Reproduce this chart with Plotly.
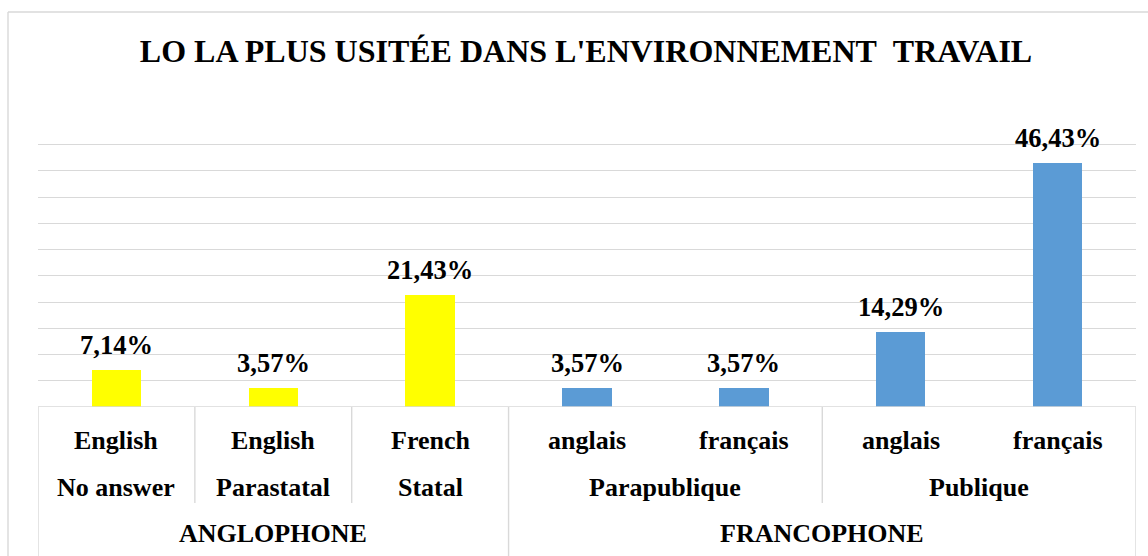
import plotly.graph_objects as go

# ---- data ----
level1 = ["English", "English", "French", "anglais", "français", "anglais", "français"]
level2 = ["No answer", "Parastatal", "Statal", "Parapublique", "Parapublique", "Publique", "Publique"]
level3 = ["ANGLOPHONE", "ANGLOPHONE", "ANGLOPHONE", "FRANCOPHONE", "FRANCOPHONE", "FRANCOPHONE", "FRANCOPHONE"]
values = [7.14, 3.57, 21.43, 3.57, 3.57, 14.29, 46.43]
bar_colors = ["#FFFF00", "#FFFF00", "#FFFF00", "#5B9BD5", "#5B9BD5", "#5B9BD5", "#5B9BD5"]
title_text = "LO LA PLUS USITÉE DANS L'ENVIRONNEMENT\u00a0\u00a0TRAVAIL"
y_max = 50.5

# ---- layout geometry (pixels) ----
W, H = 1148, 556
ML, MR, MT, MB = 38, 12, 142, 149
plot_h = H - MT - MB
plot_w = W - ML - MR
FONT = "Liberation Serif, Times New Roman, serif"
GRID = "#D9D9D9"

xs = list(range(len(values)))

fig = go.Figure()
fig.add_trace(go.Bar(
    x=xs, y=values, marker=dict(color=bar_colors, line=dict(width=0)),
    width=0.315, hoverinfo="skip",
))

annotations = []
# data labels
for x, v in zip(xs, values):
    annotations.append(dict(
        x=x, y=v, xref="x", yref="y", text=f"{v:.2f}%".replace(".", ","),
        showarrow=False, yanchor="bottom", yshift=8,
        font=dict(family=FONT, size=26.5, color="#000000", weight="bold"),
    ))

def px_down(p):
    return -p / plot_h

lab_font = dict(family=FONT, size=26, color="#000000", weight="bold")
# level-1 labels
for x, t in zip(xs, level1):
    annotations.append(dict(x=x, y=0, xref="x", yref="paper", text=t, showarrow=False,
                            yanchor="middle", yshift=-33, font=lab_font))

# group helper
def groups(labels, keys=None):
    out = []
    start = 0
    keys = keys or labels
    for i in range(1, len(labels) + 1):
        if i == len(labels) or keys[i] != keys[start]:
            out.append((start, i - 1, labels[start]))
            start = i
    return out

# level-2 labels (group within level3)
keys2 = [a + "|" + b for a, b in zip(level3, level2)]
g2 = groups(level2, keys2)
for s, e, t in g2:
    annotations.append(dict(x=(s + e) / 2, y=0, xref="x", yref="paper", text=t, showarrow=False,
                            yanchor="middle", yshift=-80, font=lab_font))
g3 = groups(level3)
for s, e, t in g3:
    annotations.append(dict(x=(s + e) / 2, y=0, xref="x", yref="paper", text=t, showarrow=False,
                            yanchor="middle", yshift=-126, font=lab_font))

shapes = []
# outer separators (level 3 boundaries) to bottom
outer = sorted(set([-0.5] + [e + 0.5 for s, e, t in g3]))
for b in outer:
    shapes.append(dict(type="line", xref="x", yref="paper", x0=b, x1=b, y0=0, y1=px_down(MB + 5),
                       line=dict(color=GRID, width=1.4)))
# inner separators (level 2 boundaries)
for s, e, t in g2[:-1]:
    b = e + 0.5
    if b not in outer:
        shapes.append(dict(type="line", xref="x", yref="paper", x0=b, x1=b, y0=0, y1=px_down(96),
                           line=dict(color=GRID, width=1.4)))
# baseline
shapes.append(dict(type="line", xref="paper", yref="y", x0=0, x1=1, y0=0, y1=0,
                   line=dict(color=GRID, width=1.4)))
# chart outer border (left and top)
bx0 = (8 - ML) / plot_w
by1 = (H - MB - 12) / plot_h
shapes.append(dict(type="line", xref="paper", yref="paper", x0=bx0, x1=bx0, y0=px_down(MB + 5), y1=by1,
                   line=dict(color=GRID, width=1.4)))
shapes.append(dict(type="line", xref="paper", yref="paper", x0=bx0, x1=(W + 5 - ML) / plot_w, y0=by1, y1=by1,
                   line=dict(color=GRID, width=1.4)))

fig.update_layout(
    width=W, height=H,
    margin=dict(l=ML, r=MR, t=MT, b=MB, pad=0),
    paper_bgcolor="#FFFFFF", plot_bgcolor="#FFFFFF",
    showlegend=False,
    title=dict(text=title_text, xref="container", yref="container",
               x=586 / W, y=1 - 51 / H, xanchor="center", yanchor="middle",
               font=dict(family=FONT, size=32, color="#000000", weight="bold")),
    xaxis=dict(range=[-0.5, 6.5], showticklabels=False, showgrid=False, zeroline=False,
               showline=False, ticks="", fixedrange=True),
    yaxis=dict(range=[0, y_max], tick0=0, dtick=5, showticklabels=False, showgrid=True, gridcolor=GRID,
               gridwidth=1.4, zeroline=False, showline=False, ticks="", fixedrange=True),
    annotations=annotations, shapes=shapes,
    bargap=0,
)

fig.write_html("out.html", config={"displayModeBar": False},
               post_script="document.body.style.margin='0';document.body.style.overflow='hidden';")
